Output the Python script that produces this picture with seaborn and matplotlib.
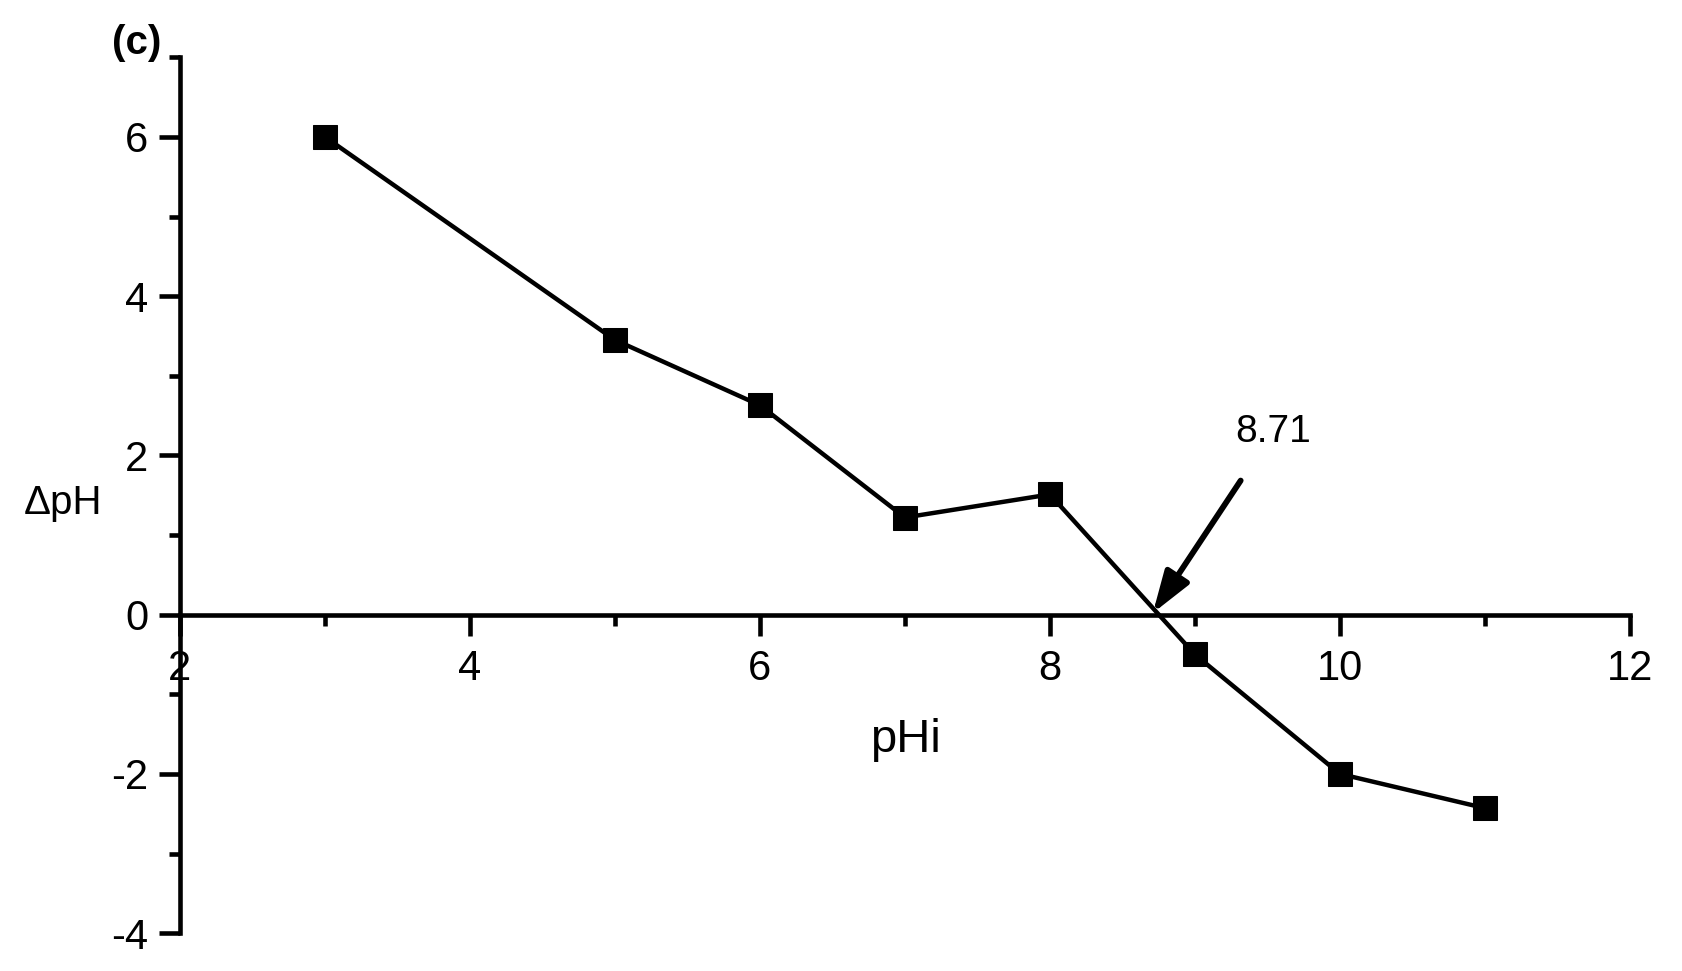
import matplotlib
matplotlib.use("Agg")
import matplotlib.pyplot as plt
from matplotlib.ticker import MultipleLocator
import numpy as np
import pandas as pd
import seaborn as sns

# data
phi = [3, 5, 6, 7, 8, 9, 10, 11]
delta_ph = [6.0, 3.45, 2.63, 1.22, 1.51, -0.50, -2.0, -2.43]
pzc = 8.71

df = pd.DataFrame({"pHi": phi, "dpH": delta_ph})

sns.set_style("ticks")
plt.rcParams["font.family"] = ["Liberation Sans", "DejaVu Sans"]
plt.rcParams["axes.unicode_minus"] = False

fig = plt.figure(figsize=(16.82, 9.71), dpi=100)
ax = fig.add_axes([0.107, 0.039, 0.862, 0.902])

sns.lineplot(data=df, x="pHi", y="dpH", ax=ax, color="black", linewidth=3.2,
             marker="s", markersize=17, markeredgecolor="black", markerfacecolor="black")

ax.set_xlim(2, 12)
ax.set_ylim(-4, 7)

# axes like the Origin plot: x axis through y=0
ax.spines["top"].set_visible(False)
ax.spines["right"].set_visible(False)
ax.spines["bottom"].set_position(("data", 0))
for s in ("left", "bottom"):
    ax.spines[s].set_linewidth(3.3)
    ax.spines[s].set_color("black")

ax.xaxis.set_major_locator(MultipleLocator(2))
ax.xaxis.set_minor_locator(MultipleLocator(1))
ax.yaxis.set_major_locator(MultipleLocator(2))
ax.yaxis.set_minor_locator(MultipleLocator(1))
ax.tick_params(which="major", direction="out", length=15, width=3.3, labelsize=30,
               color="black", labelcolor="black")
ax.tick_params(which="minor", direction="out", length=8, width=3.3, color="black")
ax.tick_params(axis="x", which="major", pad=10)
ax.tick_params(axis="y", which="major", pad=8)

ax.set_xlabel("")
ax.set_ylabel("")
ax.text(7.0, -1.58, "pHi", fontsize=34, ha="center", va="center", color="black")
ax.text(1.19, 1.4, "ΔpH", fontsize=29, ha="center", va="center", color="black", clip_on=False)
fig.text(0.081, 0.956, "(c)", fontsize=29, fontweight="bold", ha="center", va="center", color="black")

ax.annotate(f"{pzc:.2f}", xy=(pzc, 0.02), xytext=(9.54, 2.3), fontsize=28,
            ha="center", va="center", color="black",
            arrowprops=dict(arrowstyle="-|>,head_length=0.9,head_width=0.3", color="black",
                            lw=4.2, shrinkA=24, shrinkB=0))

fig.savefig("out.png", dpi=100)
